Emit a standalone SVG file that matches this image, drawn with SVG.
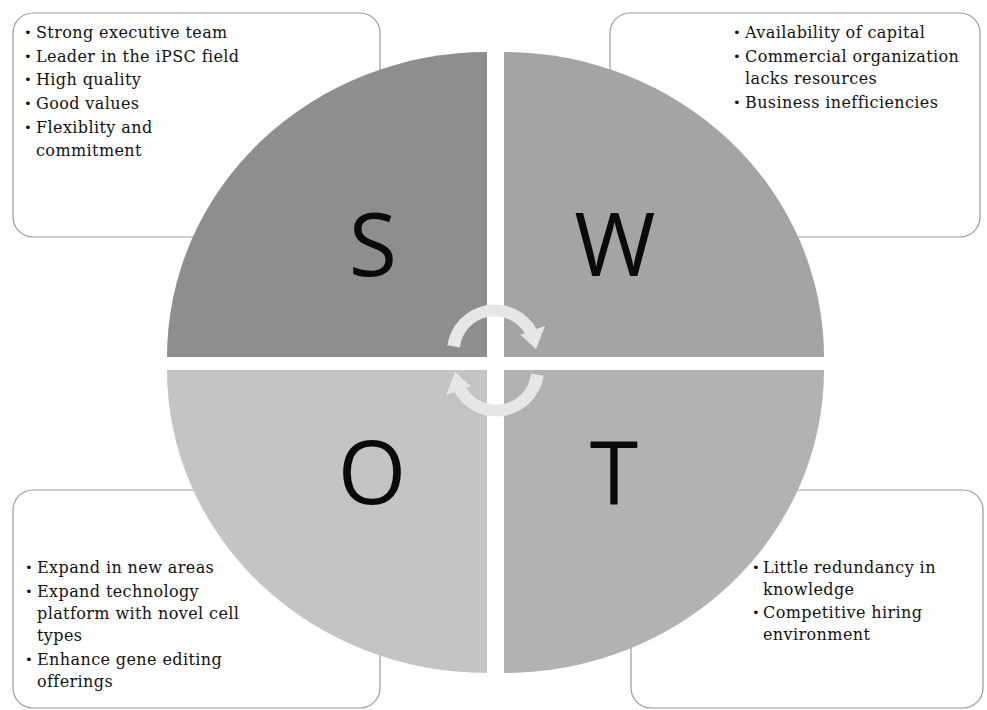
<svg xmlns="http://www.w3.org/2000/svg" width="987" height="710" viewBox="0 0 987 710">
<style>
.box{fill:#ffffff;stroke:#9a9a9a;stroke-width:1.2}
.t{font-family:"DejaVu Serif","Liberation Serif",serif;font-size:16px;letter-spacing:0.4px;fill:#111111}
.b{font-family:"DejaVu Sans","Liberation Sans",sans-serif;font-size:13px;fill:#111111}
.L{font-family:"Open Sans","Noto Sans","Liberation Sans",sans-serif;font-size:88px;fill:#0a0a0a;text-anchor:middle}
.arr{fill:#e6e6e6}
</style>
<rect width="987" height="710" fill="#ffffff"/>
<g id="box-s">
<rect class="box" x="13" y="13" width="367" height="224" rx="20"/>
<text class="b" x="24" y="37">•</text><text class="t" x="36" y="38">Strong executive team</text>
<text class="b" x="24" y="61">•</text><text class="t" x="36" y="62">Leader in the iPSC field</text>
<text class="b" x="24" y="84">•</text><text class="t" x="36" y="85">High quality</text>
<text class="b" x="24" y="108">•</text><text class="t" x="36" y="109">Good values</text>
<text class="b" x="24" y="132">•</text><text class="t" x="36" y="133">Flexiblity and</text>
<text class="t" x="36" y="156">commitment</text>
</g>
<g id="box-w">
<rect class="box" x="610" y="13" width="370" height="224" rx="20"/>
<text class="b" x="733" y="37">•</text><text class="t" x="745" y="38">Availability of capital</text>
<text class="b" x="733" y="61">•</text><text class="t" x="745" y="62">Commercial organization</text>
<text class="t" x="745" y="84">lacks resources</text>
<text class="b" x="733" y="107">•</text><text class="t" x="745" y="108">Business inefficiencies</text>
</g>
<g id="box-o">
<rect class="box" x="13" y="490" width="367" height="218" rx="20"/>
<text class="b" x="25" y="572">•</text><text class="t" x="37" y="573">Expand in new areas</text>
<text class="b" x="25" y="596">•</text><text class="t" x="37" y="597">Expand technology</text>
<text class="t" x="37" y="619">platform with novel cell</text>
<text class="t" x="37" y="641">types</text>
<text class="b" x="25" y="664">•</text><text class="t" x="37" y="665">Enhance gene editing</text>
<text class="t" x="37" y="687">offerings</text>
</g>
<g id="box-t">
<rect class="box" x="631" y="490" width="352" height="218" rx="20"/>
<text class="b" x="752" y="572">•</text><text class="t" x="763" y="573">Little redundancy in</text>
<text class="t" x="763" y="595">knowledge</text>
<text class="b" x="752" y="617">•</text><text class="t" x="763" y="618">Competitive hiring</text>
<text class="t" x="763" y="640">environment</text>
</g>
<g id="quad-s">
<path d="M487,357 L167,357 A320,305 0 0 1 487,52 Z" fill="#8e8e8e"/>
<text class="L" x="373" y="276">S</text>
</g>
<g id="quad-w">
<path d="M504,357 L504,52 A320,305 0 0 1 824,357 Z" fill="#a4a4a4"/>
<text class="L" x="615" y="276">W</text>
</g>
<g id="quad-o">
<path d="M487,370 L487,673 A320,303 0 0 1 167,370 Z" fill="#c4c4c4"/>
<text class="L" x="372" y="504">O</text>
</g>
<g id="quad-t">
<path d="M504,370 L824,370 A320,303 0 0 1 504,673 Z" fill="#b2b2b2"/>
<text class="L" x="614" y="504">T</text>
</g>
<g id="connectors">
<path class="arr" d="M447.3,345.3 A48,48 0 0 1 536.6,329 L545,326 L536,349 L520,334.5 L525,333.5 A35,35 0 0 0 460,347.6 Z"/>
<path class="arr" d="M543.7,375.7 A48,48 0 0 1 454.4,392 L446,395 L455,372 L471,386.5 L466,387.5 A35,35 0 0 0 531,373.4 Z"/>
</g>
</svg>
